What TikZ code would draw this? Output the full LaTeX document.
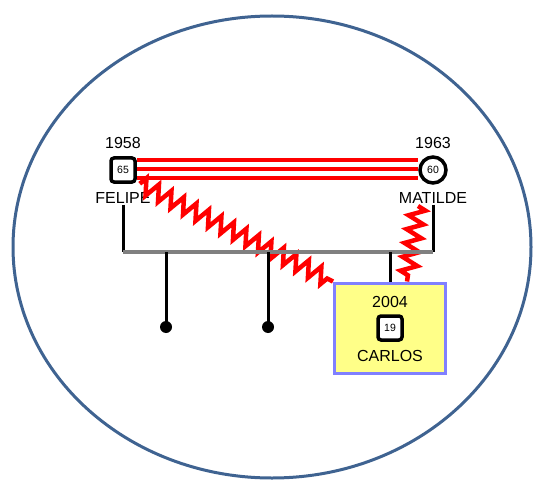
\documentclass[tikz,border=0pt]{standalone}
\usepackage{fontspec}
\setmainfont{Liberation Sans}
\usetikzlibrary{decorations.pathmorphing}
\definecolor{ringblue}{HTML}{3F6391}
\definecolor{boxyellow}{HTML}{FFFF88}
\definecolor{boxblue}{HTML}{8080FF}

\tikzset{
    malebox/.style={draw, line width=3.5pt, rounded corners=3pt, fill=white,
        minimum size=24pt, inner sep=0pt, font=\fontsize{10.5}{12}\selectfont},
    femalebox/.style={draw, circle, line width=3.5pt, fill=white,
        minimum size=26pt, inner sep=0pt, font=\fontsize{10.5}{12}\selectfont},
    yearlabel/.style={font=\fontsize{16}{18}\selectfont, inner sep=1pt},
    namelabel/.style={font=\fontsize{16}{18}\selectfont, inner sep=1pt},
    kinline/.style={line width=3pt},
    conflict/.style={red, line width=4.5pt, decorate,
        decoration={zigzag, segment length=14pt, amplitude=8pt}},
}

\begin{document}
\begin{tikzpicture}[x=1pt,y=-1pt]
    \useasboundingbox (0,0) rectangle (540,481);

    \coordinate (fdrop) at (123,252);
    \coordinate (mdrop) at (433,252);
    \coordinate (child1top) at (166,252);
    \coordinate (child2top) at (268,252);
    \coordinate (child3top) at (390,252);
    \coordinate (child1) at (166,327);
    \coordinate (child2) at (268,327);
    \coordinate (mzigstart) at (418,206);

    \draw[ringblue, line width=3pt] (272,247) ellipse [x radius=259, y radius=231];

    % parents
    \node[malebox] (felipe) at (123,170) {65};
    \node[femalebox] (matilde) at (433,170) {60};
    \node[yearlabel] (felipeyear) at (123,143) {1958};
    \node[yearlabel] (matildeyear) at (433,143) {1963};
    \node[namelabel] (felipename) at (123,198) {FELIPE};
    \node[namelabel] (matildename) at (433,198) {MATILDE};

    % child box
    \node[draw=boxblue, fill=boxyellow, line width=3pt, minimum width=111pt,
        minimum height=90pt] (carlosbox) at (390,328) {};
    \node[malebox] (carlos) at (390,328) {19};
    \node[yearlabel] (carlosyear) at (390,302) {2004};
    \node[namelabel] (carlosname) at (390,356) {CARLOS};

    % relations
    \foreach \dy in {-10,-1,8} {
        \draw[red, line width=3.5pt] ([yshift=-\dy pt]felipe.east) -- ([yshift=-\dy pt]matilde.west);
    }
    \draw[conflict] ([xshift=3pt]felipe.south east) -- (carlosbox.north west);
    \draw[conflict] (mzigstart) -- ([xshift=17pt]carlosbox.north);

    % family lines
    \draw[kinline] (felipename.south) -- (fdrop);
    \draw[kinline] (matildename.south) -- (mdrop);
    \draw[gray, line width=4pt] (fdrop) -- (mdrop);
    \foreach \c in {1,2} {
        \draw[kinline] (child\c top) -- (child\c);
        \fill (child\c) circle (6);
    }
    \draw[kinline] (child3top) -- (carlosbox.north -| child3top);
\end{tikzpicture}
\end{document}
